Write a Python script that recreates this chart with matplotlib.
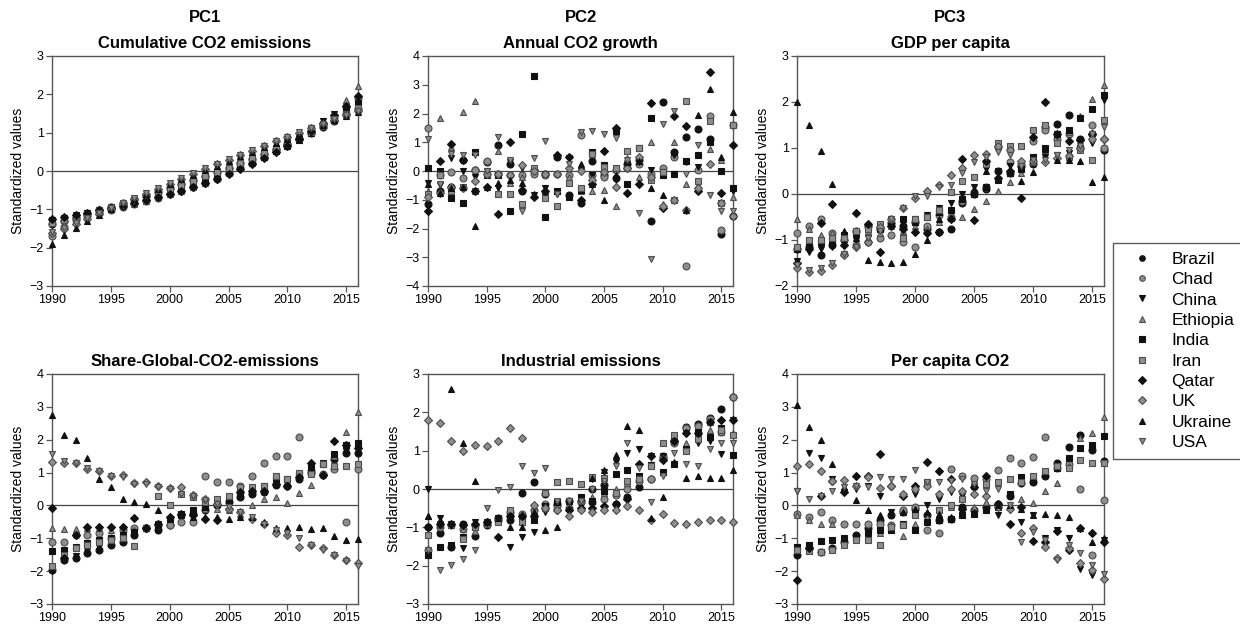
import matplotlib
matplotlib.use("Agg")
import matplotlib.pyplot as plt
from matplotlib.lines import Line2D

plt.rcParams['font.family'] = ['Liberation Sans', 'DejaVu Sans']

years = list(range(1990, 2017))
countries = ['Brazil', 'Chad', 'China', 'Ethiopia', 'India', 'Iran',
             'Qatar', 'UK', 'Ukraine', 'USA']

# rows follow the order of `countries`
cumulative_co2 = [
    [-1.38, -1.30, -1.22, -1.12, -1.03, -0.94, -0.84, -0.74, -0.64, -0.54, -0.44, -0.34, -0.23, -0.13, -0.02, 0.09, 0.20, 0.32, 0.44, 0.57, 0.70, 0.84, 0.99, 1.15, 1.31, 1.48, 1.63],
    [-1.70, -1.45, -1.28, -1.18, -1.10, -1.02, -0.94, -0.86, -0.78, -0.70, -0.61, -0.52, -0.42, -0.32, -0.20, -0.06, 0.08, 0.22, 0.36, 0.51, 0.67, 0.84, 1.02, 1.21, 1.41, 1.66, 1.90],
    [-1.28, -1.22, -1.16, -1.10, -1.03, -0.96, -0.88, -0.80, -0.72, -0.64, -0.56, -0.47, -0.38, -0.27, -0.15, -0.02, 0.12, 0.27, 0.42, 0.58, 0.75, 0.93, 1.12, 1.31, 1.50, 1.70, 1.90],
    [-1.30, -1.24, -1.18, -1.12, -1.06, -0.99, -0.92, -0.85, -0.77, -0.69, -0.60, -0.51, -0.41, -0.30, -0.19, -0.06, 0.08, 0.22, 0.37, 0.52, 0.68, 0.86, 1.05, 1.26, 1.50, 1.85, 2.22],
    [-1.30, -1.24, -1.17, -1.10, -1.03, -0.95, -0.87, -0.79, -0.70, -0.61, -0.52, -0.43, -0.33, -0.23, -0.12, -0.01, 0.11, 0.24, 0.37, 0.51, 0.66, 0.82, 0.99, 1.17, 1.36, 1.56, 1.77],
    [-1.35, -1.27, -1.19, -1.11, -1.03, -0.94, -0.85, -0.76, -0.66, -0.56, -0.46, -0.36, -0.25, -0.14, -0.03, 0.09, 0.21, 0.33, 0.46, 0.59, 0.73, 0.87, 1.02, 1.17, 1.32, 1.48, 1.64],
    [-1.25, -1.20, -1.15, -1.09, -1.03, -0.97, -0.90, -0.83, -0.76, -0.68, -0.60, -0.51, -0.42, -0.32, -0.21, -0.09, 0.04, 0.18, 0.33, 0.49, 0.66, 0.84, 1.04, 1.25, 1.47, 1.70, 1.95],
    [-1.62, -1.50, -1.37, -1.24, -1.11, -0.98, -0.85, -0.72, -0.59, -0.46, -0.33, -0.20, -0.08, 0.05, 0.17, 0.29, 0.41, 0.53, 0.65, 0.77, 0.89, 1.00, 1.12, 1.23, 1.34, 1.45, 1.56],
    [-1.90, -1.68, -1.48, -1.30, -1.14, -1.00, -0.86, -0.73, -0.60, -0.47, -0.34, -0.22, -0.10, 0.02, 0.14, 0.26, 0.38, 0.50, 0.62, 0.73, 0.84, 0.96, 1.08, 1.20, 1.32, 1.43, 1.53],
    [-1.60, -1.48, -1.35, -1.22, -1.09, -0.96, -0.83, -0.70, -0.57, -0.44, -0.31, -0.18, -0.06, 0.07, 0.19, 0.31, 0.43, 0.55, 0.66, 0.78, 0.89, 1.01, 1.12, 1.23, 1.35, 1.46, 1.57],
]

annual_growth = [
    [-1.15, -0.7, -0.55, 0.4, 0.05, 0.3, 0.9, 0.25, -0.7, 0.05, -0.1, 0.5, -0.85, -1.1, 0.35, -0.15, -0.25, 0.25, 0.4, -1.75, 2.4, 0.65, 1.2, 1.45, 1.1, -2.2, -1.55],
    [1.5, -0.15, -0.05, -0.25, 0.05, 0.35, -0.1, -0.15, -0.15, -0.1, -0.15, -0.1, -0.15, 1.25, -0.15, -0.2, 0.05, 0.1, 0.25, -0.1, 0.1, 0.5, -3.3, 0.05, 1.9, -2.05, 1.6],
    [-0.4, -0.5, 0.45, 0.0, -0.2, 0.0, -0.6, 0.3, 0.1, -0.85, -0.6, -0.8, 0.45, 0.0, -0.15, 0.0, -0.3, 0.25, 0.3, 0.05, -0.05, 0.55, 0.3, 0.15, 1.75, -1.1, -0.7],
    [-0.7, 1.85, 0.85, 2.05, 2.45, -0.1, 0.7, -0.4, -0.2, 0.1, -0.1, -1.2, -0.2, -0.7, -0.7, -0.65, -1.2, 0.45, -0.2, 1.0, -1.15, 1.0, -0.45, -0.5, 0.75, 0.4, -0.9],
    [0.1, 0.0, -0.95, -1.1, 0.65, -0.15, -0.15, -1.4, 1.3, 3.3, -1.6, -0.7, -0.9, -0.65, 0.65, 0.2, 1.4, -0.45, 0.8, 1.85, -0.15, -0.1, 0.35, 0.55, 1.0, 0.0, -0.6],
    [-0.8, -0.15, -0.7, -0.55, -0.7, -0.1, -0.8, -0.8, -1.15, 0.1, -0.95, -1.2, -0.4, -0.6, 0.6, 0.15, 0.1, 0.7, 0.8, -0.3, -0.05, -1.0, 2.45, -0.35, 1.75, -1.1, 1.6],
    [-1.4, 0.35, 0.95, 0.4, -0.7, -0.55, -1.5, 1.0, -0.65, -0.9, -0.7, 0.55, 0.5, -1.0, -0.45, 0.7, 1.5, -0.75, -0.45, 2.35, -1.3, 1.9, 1.55, -0.7, 3.45, -0.75, 0.9],
    [-0.9, -0.75, -0.55, -0.6, -0.35, -0.1, -0.1, -0.15, 0.2, 0.0, -0.1, -0.1, 0.1, 0.0, -0.3, -0.05, -0.55, 0.1, 0.5, -0.2, -1.2, -1.0, -1.35, -0.6, 0.25, -1.1, -1.55],
    [-0.45, -0.75, -0.6, -0.55, -1.9, -0.55, -0.4, -0.3, -0.4, -0.8, -0.7, -0.7, -0.85, 0.25, -0.45, -1.0, -0.15, 0.3, 0.35, -0.6, -0.85, 0.65, -1.35, 1.95, 2.85, 0.5, 2.05],
    [1.1, -0.45, 0.6, 0.55, 0.55, 0.0, 1.2, 0.4, -1.4, 0.45, 1.05, -0.8, 0.25, 1.35, 1.4, 1.3, 1.15, 0.4, -1.45, -3.05, 1.65, 2.1, -0.1, 0.9, -0.85, -1.4, -1.4],
]

gdp_per_capita = [
    [-1.2, -1.15, -1.32, -1.1, -1.0, -0.8, -0.7, -0.75, -0.62, -0.7, -0.6, -0.75, -0.83, -0.75, -0.2, 0.0, 0.1, 0.5, 0.45, 0.6, 0.65, 1.45, 1.52, 1.72, 1.2, 1.3, 0.95],
    [-0.85, -0.7, -0.55, -0.85, -1.3, -1.1, -1.05, -0.95, -0.9, -1.05, -1.15, -0.7, -0.45, -0.5, -0.15, 0.05, 0.15, 1.02, 0.7, 0.65, 1.15, 1.4, 1.2, 1.3, 1.0, 1.5, 1.0],
    [-1.45, -1.25, -1.2, -1.15, -1.05, -1.0, -0.95, -0.8, -0.7, -0.6, -0.55, -0.45, -0.3, -0.2, 0.0, 0.15, 0.55, 0.5, 0.6, 0.55, 0.65, 0.8, 0.85, 0.9, 1.0, 1.1, 2.05],
    [-0.55, -0.75, -0.9, -0.85, -0.95, -0.85, -0.8, -0.85, -0.7, -0.8, -0.7, -0.75, -0.6, -0.45, -0.5, -0.32, -0.15, 0.06, 0.27, 0.45, 0.7, 0.95, 1.15, 1.35, 1.7, 2.07, 2.38],
    [-1.2, -1.1, -1.05, -1.0, -0.9, -0.85, -0.7, -0.75, -0.65, -0.55, -0.6, -0.5, -0.4, -0.35, -0.1, 0.0, 0.15, 0.3, 0.45, 0.55, 0.8, 1.0, 1.3, 1.4, 1.65, 1.85, 2.15],
    [-1.15, -1.0, -1.0, -0.95, -0.95, -0.8, -0.75, -0.65, -0.55, -0.95, -0.55, -0.5, -0.35, 0.05, 0.28, 0.38, 0.65, 1.1, 1.05, 1.05, 1.4, 1.5, 1.1, 0.8, 0.95, 0.75, 1.6],
    [-1.5, -1.2, -0.62, -0.22, -1.1, -0.42, -0.65, -1.25, -0.7, -0.75, -0.82, -0.85, -0.82, -0.55, 0.77, -0.57, 0.72, 0.35, 0.5, -0.08, 1.25, 2.0, 1.3, 1.15, 1.18, 1.3, 1.2],
    [-1.6, -1.7, -1.68, -1.55, -1.32, -1.15, -1.05, -0.72, -0.55, -0.3, -0.08, 0.07, 0.2, 0.42, 0.57, 0.85, 0.88, 1.05, 0.95, 0.72, 0.72, 0.7, 0.78, 0.82, 1.0, 1.2, 1.2],
    [2.0, 1.5, 0.93, 0.22, -0.8, -0.95, -1.43, -1.48, -1.5, -1.48, -1.3, -1.0, -0.55, -0.52, -0.05, 0.1, 0.5, 0.35, 0.45, 0.28, 0.47, 0.98, 0.75, 0.75, 0.72, 0.27, 0.38],
    [-1.55, -1.65, -1.6, -1.5, -1.3, -1.15, -0.95, -0.8, -0.55, -0.3, -0.05, -0.05, 0.15, 0.2, 0.45, 0.7, 0.8, 0.92, 0.85, 0.6, 0.75, 0.75, 0.85, 0.95, 1.05, 1.3, 1.45],
]

share_global = [
    [-1.95, -1.65, -1.6, -1.45, -1.35, -1.2, -1.1, -0.9, -0.7, -0.75, -0.6, -0.3, -0.25, -0.15, 0.0, 0.1, 0.25, 0.35, 0.4, 0.62, 0.6, 0.8, 1.0, 0.92, 1.4, 1.6, 1.6],
    [-1.1, -1.1, -0.9, -0.9, -0.85, -1.0, -0.75, -0.7, -0.7, -0.6, -0.6, -0.5, -0.5, 0.9, 0.7, 0.7, 0.6, 0.9, 1.3, 1.5, 1.5, 2.08, 1.05, 0.95, 1.1, -0.5, 1.1],
    [-2.0, -1.65, -1.55, -1.4, -1.25, -1.1, -0.95, -0.85, -0.7, -0.55, -0.4, -0.3, -0.2, -0.1, 0.05, 0.2, 0.35, 0.5, 0.6, 0.65, 0.65, 0.9, 1.1, 1.3, 1.45, 1.65, 1.7],
    [-0.7, -0.72, -0.72, -0.7, -0.7, -0.75, -0.8, -0.75, -0.7, -0.55, -0.4, -0.3, -0.2, -0.1, -0.1, -0.15, -0.25, 0.02, 0.2, 0.25, 0.08, 0.38, 0.62, 1.3, 1.5, 2.22, 2.85],
    [-1.4, -1.35, -1.25, -1.15, -1.05, -1.0, -0.9, -0.8, -0.7, -0.6, -0.4, -0.25, -0.15, -0.05, 0.05, 0.15, 0.3, 0.4, 0.55, 0.8, 0.8, 0.95, 1.15, 1.25, 1.55, 1.85, 1.9],
    [-1.85, -1.5, -1.3, -1.2, -1.1, -1.05, -1.0, -1.22, -0.7, 0.3, 0.0, 0.35, 0.25, 0.1, 0.2, 0.3, 0.55, 0.55, 0.6, 0.9, 0.8, 1.0, 0.95, 1.25, 1.2, 1.2, 1.25],
    [-0.07, -1.6, -0.9, -0.65, -0.65, -0.65, -0.65, -0.38, -0.7, -0.55, -0.35, -0.25, -0.3, -0.4, -0.45, -0.1, 0.4, 0.45, 0.45, 0.65, 0.6, 0.85, 1.3, 0.92, 1.95, 1.85, 1.75],
    [1.33, 1.28, 1.3, 1.12, 1.05, 0.9, 0.92, 0.68, 0.72, 0.6, 0.52, 0.57, 0.32, 0.2, 0.05, -0.1, -0.2, -0.4, -0.55, -0.85, -0.9, -1.25, -1.2, -1.3, -1.5, -1.65, -1.75],
    [2.75, 2.15, 2.0, 1.45, 0.8, 0.55, 0.2, 0.1, 0.05, -0.15, -0.35, -0.3, -0.35, -0.35, -0.35, -0.4, -0.35, -0.35, -0.5, -0.7, -0.7, -0.65, -0.72, -0.7, -0.92, -1.05, -1.02],
    [1.55, 1.35, 1.3, 1.15, 1.05, 0.9, 0.85, 0.65, 0.65, 0.55, 0.5, 0.35, 0.3, 0.15, 0.05, -0.05, -0.2, -0.35, -0.55, -0.75, -0.85, -1.0, -1.2, -1.35, -1.5, -1.68, -1.85],
]

industrial = [
    [-1.0, -1.15, -1.52, -0.9, -1.22, -0.95, -0.75, -0.8, -0.1, 0.18, -0.12, -0.4, -0.3, -0.3, 0.0, 0.1, -0.4, -0.22, 0.05, 0.25, 0.8, 1.25, 1.62, 1.7, 1.85, 2.1, 2.4],
    [-1.6, -1.0, -0.95, -1.05, -0.95, -0.85, -0.8, -0.6, -0.65, -0.55, -0.4, -0.45, -0.5, -0.35, -0.35, -0.25, -0.15, 0.0, 0.2, 0.25, 0.85, 1.2, 1.6, 1.65, 1.82, 1.5, 2.4],
    [0.0, -0.75, -0.9, -1.55, -0.85, -0.85, -0.75, -1.5, -1.25, -1.12, -0.6, -0.35, -0.55, -0.45, 0.25, 0.45, 0.7, 0.95, 1.05, 0.85, 0.85, 1.25, 1.45, 1.2, 1.25, 0.92, 1.8],
    [-0.7, -0.95, -0.95, -1.05, -1.1, -0.85, -0.8, -0.65, -0.65, -0.5, -0.5, -0.35, -0.4, -0.3, -0.2, -0.1, 0.0, 0.15, 0.25, 0.65, 0.8, 1.25, 1.2, 1.4, 1.55, 1.5, 1.45],
    [-1.72, -1.52, -1.45, -1.25, -1.0, -0.9, -0.8, -0.65, -0.75, -0.8, -0.45, -0.35, -0.3, -0.2, -0.3, -0.05, 0.4, 0.5, 0.35, 0.62, 0.45, 0.65, 1.05, 1.5, 1.35, 1.6, 0.88],
    [-1.2, -0.9, -0.95, -1.3, -1.0, -0.9, -0.85, -0.55, -0.85, -0.6, -0.1, 0.18, 0.2, 0.13, 0.32, 0.3, -0.1, 0.2, 0.25, 0.6, 1.2, 1.42, 1.0, 1.3, 1.75, 1.55, 1.42],
    [-1.0, -0.9, -0.9, -0.95, -0.9, -0.85, -1.25, -0.7, -0.7, -0.7, -0.5, -0.55, -0.55, -0.5, -0.5, -0.45, -0.4, -0.25, 0.65, 0.85, 0.75, 1.25, 1.45, 1.45, 1.75, 1.8, 1.8],
    [1.8, 1.72, 1.25, 0.98, 1.15, 1.13, 1.25, 1.58, 1.32, -0.42, -0.5, -0.55, -0.7, -0.55, -0.6, -0.55, -0.55, -0.45, -0.55, -0.8, -0.65, -0.88, -0.9, -0.85, -0.8, -0.8, -0.85],
    [-0.7, -0.8, 2.62, 1.2, 0.22, -0.85, -0.75, -1.0, -1.0, -0.6, -1.07, -0.98, -0.5, -0.2, 0.3, 0.5, 0.9, 1.65, 1.55, -0.75, -0.22, 0.7, 0.3, 0.35, 0.3, 0.28, 0.5],
    [-1.6, -2.12, -1.98, -1.82, -1.58, -0.5, -0.02, 0.05, 0.6, 0.42, 0.55, -0.3, -0.3, -0.3, 0.0, 0.2, 0.6, 1.2, 0.55, -0.35, 0.35, 0.95, 0.65, 0.6, 1.05, 1.2, 1.2],
]

per_capita_co2 = [
    [-1.5, -1.3, -1.42, -1.3, -1.1, -0.9, -0.7, -0.45, -0.3, -0.2, -0.1, -0.3, -0.45, -0.4, -0.05, -0.15, -0.05, 0.05, 0.3, 0.68, 0.7, 0.9, 1.3, 1.78, 2.15, 1.7, 1.35],
    [-0.25, -0.35, -0.2, -0.45, -0.55, -0.55, -0.55, -0.55, -0.6, -0.15, -0.05, -0.75, -0.85, 1.1, 0.9, 0.82, 0.8, 1.08, 1.45, 1.3, 1.48, 2.08, 1.15, 1.25, 0.5, -1.5, 0.15],
    [0.45, 1.6, 1.45, 0.8, 0.4, 0.5, 0.6, 0.3, -0.2, 0.3, 0.35, 0.0, 0.2, 0.4, 0.3, 0.5, 0.5, -0.3, -0.15, -0.5, -0.3, -1.0, -0.75, -1.0, -1.92, -2.12, -1.05],
    [-0.3, -0.45, -0.55, -0.55, -1.15, -0.95, -0.95, -0.85, -0.6, -0.92, -0.55, -0.35, -0.45, -0.05, -0.1, -0.05, 0.1, 0.05, -0.05, 0.2, 0.08, 0.45, 0.67, 1.2, 2.05, 2.2, 2.7],
    [-1.25, -1.2, -1.08, -1.05, -1.0, -0.95, -0.85, -0.75, -0.75, -0.55, -0.75, -0.5, -0.45, -0.4, -0.3, -0.25, -0.15, -0.05, 0.35, 0.85, 0.75, 1.0, 1.15, 1.45, 1.75, 1.85, 2.1],
    [-1.35, -1.38, -1.42, -1.35, -1.2, -1.05, -1.05, -1.2, -0.65, -0.6, -0.3, 0.7, -0.15, 0.0, 0.2, 0.6, 0.65, 0.7, 0.8, 0.7, 0.9, 1.05, 1.2, 1.15, 1.38, 1.28, 1.28],
    [-2.28, -1.3, 0.28, 0.75, 0.4, 0.9, 0.9, 1.58, 0.6, 0.3, 0.6, 1.32, 1.05, 0.8, -0.1, 0.55, 0.9, 0.05, -0.55, -0.05, -1.07, -1.1, -0.78, -1.35, -0.7, -0.85, -1.1],
    [1.2, 1.27, 1.05, 0.75, 0.78, 0.6, 0.88, 0.52, 0.58, 0.35, 0.5, 0.6, 0.35, 0.5, 0.45, 0.35, 0.3, -0.05, -0.1, -0.85, -0.7, -1.25, -1.6, -1.3, -1.75, -1.95, -2.25],
    [3.05, 2.4, 2.0, 1.27, 0.55, 0.18, -0.15, -0.3, -0.25, -0.2, -0.1, -0.2, -0.25, -0.35, -0.2, -0.2, -0.1, 0.0, 0.0, -0.1, -0.3, -0.25, -0.3, -0.35, -0.7, -1.1, -1.0],
    [0.45, 0.2, 0.3, 0.45, 0.55, 0.6, 0.55, 0.88, 0.8, 0.8, 1.08, 0.7, 0.7, 0.75, 0.8, 0.65, 0.45, 0.5, 0.0, -1.1, -0.8, -1.05, -1.65, -1.2, -1.45, -1.8, -2.1],
]

titles = ['Cumulative CO2 emissions', 'Annual CO2 growth', 'GDP per capita',
          'Share-Global-CO2-emissions', 'Industrial emissions', 'Per capita CO2']
pc_labels = ['PC1', 'PC2', 'PC3']
ylims = [(-3, 3), (-4, 4), (-2, 3), (-3, 4), (-3, 3), (-3, 4)]
panels = [cumulative_co2, annual_growth, gdp_per_capita,
          share_global, industrial, per_capita_co2]

# marker look per country
markers = ['o', 'o', 'v', '^', 's', 's', 'D', 'D', '^', 'v']
dark, grey, grey_edge = '#111111', '#8e8e8e', '#4d4d4d'
fills = [dark, grey, dark, grey, dark, grey, dark, grey, dark, grey]
edges = [dark, grey_edge, dark, grey_edge, dark, grey_edge, dark, grey_edge, dark, grey_edge]
msizes = [5, 5, 5, 5, 4.5, 4.5, 4.5, 4.5, 5, 5]

fig = plt.figure(figsize=(12.4, 6.27), dpi=100)
W, H = 1240, 627
lefts = [52, 428, 797]
widths = [306, 305, 307]
tops = [56, 374]
ax_h = 230

spine_col = '#555555'
for i, data in enumerate(panels):
    r, c = divmod(i, 3)
    ax = fig.add_axes([lefts[c] / W, 1 - (tops[r] + ax_h) / H, widths[c] / W, ax_h / H])
    ax.axhline(0, color='#444444', lw=0.9, zorder=1)
    for k in range(len(countries)):
        ax.plot(years, data[k], linestyle='none', marker=markers[k],
                ms=msizes[k], mfc=fills[k], mec=edges[k], mew=0.8,
                clip_on=False, zorder=3)
    ax.set_xlim(1990, 2016)
    ax.set_ylim(*ylims[i])
    ax.set_xticks(range(1990, 2016, 5))
    ax.set_yticks(range(ylims[i][0], ylims[i][1] + 1))
    ax.tick_params(direction='out', length=4, width=0.9, color=spine_col,
                   labelsize=9, pad=2, top=False, right=False)
    for s in ax.spines.values():
        s.set_color(spine_col)
        s.set_linewidth(1.0)
    ax.set_ylabel('Standardized values', fontsize=10, labelpad=3)
    ax.set_title(titles[i], fontsize=12, fontweight='bold', pad=6)
    if r == 0:
        fig.text((lefts[c] + widths[c] / 2) / W, 1 - 18 / H, pc_labels[c],
                 ha='center', va='center', fontsize=12, fontweight='bold')

handles = [Line2D([], [], linestyle='none', marker=markers[k], ms=4,
                  mfc=fills[k], mec=edges[k], mew=0.8) for k in range(len(countries))]
leg = fig.legend(handles, countries, loc='upper left',
                 bbox_to_anchor=(1113 / W, 1 - 243 / H), fontsize=12.5,
                 frameon=True, fancybox=False, borderpad=0.5, handlelength=2.3,
                 handletextpad=0.55, labelspacing=0.3, borderaxespad=0)
leg.get_frame().set_edgecolor('#333333')
leg.get_frame().set_linewidth(1.0)

fig.savefig('out.png', dpi=100)
